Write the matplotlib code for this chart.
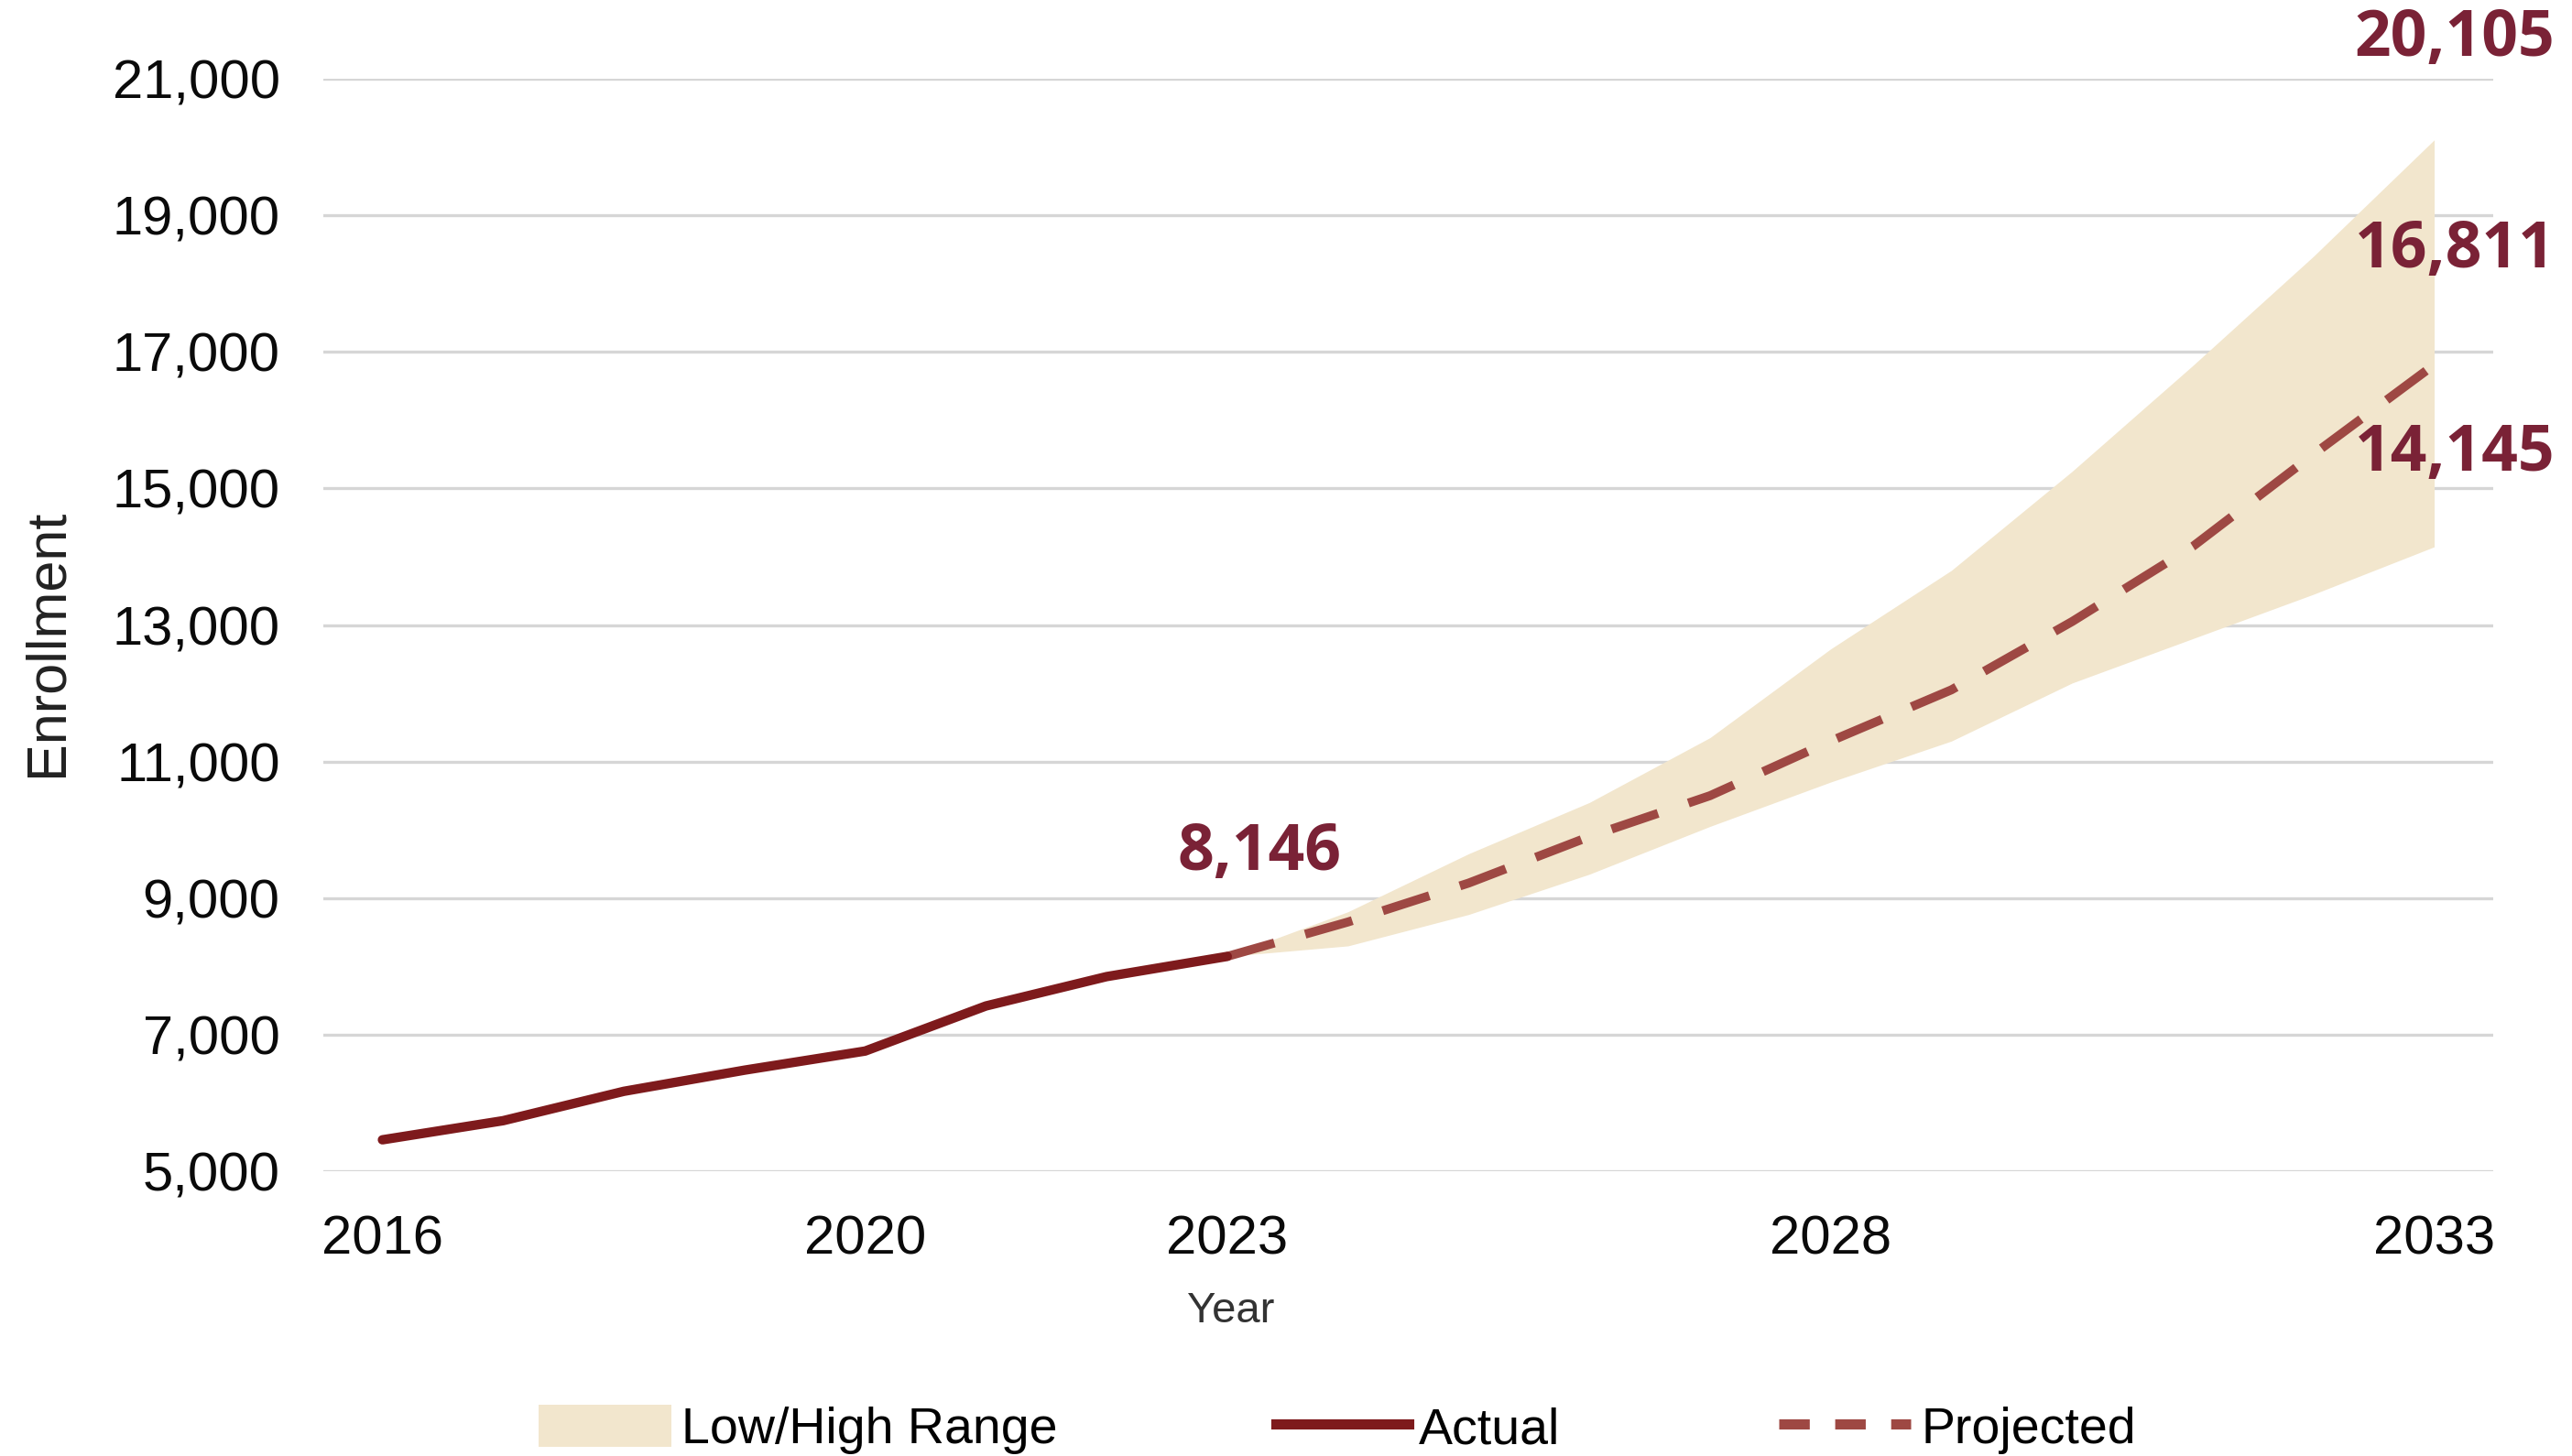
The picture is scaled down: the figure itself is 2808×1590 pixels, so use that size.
import matplotlib.pyplot as plt
from matplotlib.patches import Patch
from matplotlib.lines import Line2D
from matplotlib.ticker import FuncFormatter

# actual enrollment
actual_years = [2016, 2017, 2018, 2019, 2020, 2021, 2022, 2023]
actual_vals = [5460, 5740, 6170, 6480, 6760, 7420, 7850, 8146]

# projection and low/high range
proj_years = [2023, 2024, 2025, 2026, 2027, 2028, 2029, 2030, 2031, 2032, 2033]
proj_vals = [8146, 8650, 9220, 9900, 10500, 11300, 12050, 13050, 14150, 15500, 16811]
high_vals = [8146, 8800, 9650, 10400, 11350, 12650, 13800, 15250, 16800, 18400, 20105]
low_vals = [8146, 8300, 8760, 9350, 10050, 10700, 11300, 12150, 12800, 13450, 14145]

x_ticks = [2016, 2020, 2023, 2028, 2033]
y_ticks = [5000, 7000, 9000, 11000, 13000, 15000, 17000, 19000, 21000]

band_color = '#F2E6CD'
actual_color = '#7E1A1C'
proj_color = '#9E4843'
label_color = '#7A2236'

plt.rcParams['font.family'] = ['Liberation Sans', 'DejaVu Sans']

fig = plt.figure(figsize=(14.04, 7.95), dpi=200)
ax = fig.add_axes([0.1257, 0.1956, 0.8437, 0.7503])

ax.fill_between(proj_years, low_vals, high_vals, color=band_color, linewidth=0, zorder=2)
ax.plot(actual_years, actual_vals, color=actual_color, linewidth=3.7,
        solid_capstyle='round', solid_joinstyle='round', zorder=4)
ax.plot(proj_years, proj_vals, color=proj_color, linewidth=3.5,
        dashes=(5.5, 3.6), dash_capstyle='butt', zorder=3)

ax.set_xlim(2015.51, 2033.49)
ax.set_ylim(5000, 21000)
ax.set_xticks(x_ticks)
ax.set_yticks(y_ticks)
ax.yaxis.set_major_formatter(FuncFormatter(lambda v, p: f"{int(v):,}"))
ax.tick_params(axis='both', length=0, labelsize=21.5, colors='#0A0A0A')
ax.tick_params(axis='x', pad=17)
ax.tick_params(axis='y', pad=17)

ax.grid(axis='y', color='#D6D6D6', linewidth=1.2)
ax.grid(axis='x', visible=False)
ax.set_axisbelow(True)
for s in ax.spines.values():
    s.set_visible(False)

ax.set_xlabel("Year", fontsize=17, color='#333333')
ax.xaxis.set_label_coords(0.418, -0.11)
ax.set_ylabel("Enrollment", fontsize=22, color='#222222')
ax.yaxis.set_label_coords(-0.115, 0.484)

# value labels
lab = dict(color=label_color, fontsize=25, fontweight='bold', family='Open Sans')
ax.text(2023.27, 9650, f"{actual_vals[-1]:,}", ha='center', va='center', **lab)
ax.text(2034.0, 21577, f"{high_vals[-1]:,}", ha='right', va='center', **lab)
ax.text(2034.0, 18480, f"{proj_vals[-1]:,}", ha='right', va='center', **lab)
ax.text(2034.0, 15500, f"{low_vals[-1]:,}", ha='right', va='center', **lab)

handles = [
    Patch(facecolor=band_color, edgecolor='none', label='Low/High Range'),
    Line2D([], [], color=actual_color, linewidth=4, label='Actual'),
    Line2D([], [], color=proj_color, linewidth=4, dashes=(3, 2.5), label='Projected'),
]
fig.legend(handles=handles, loc='center', bbox_to_anchor=(0.52, 0.018), ncol=3,
           frameon=False, fontsize=20, handlelength=2.6, handleheight=0.9,
           handletextpad=0.2, columnspacing=4.3)

fig.savefig("out.png", dpi=200)
